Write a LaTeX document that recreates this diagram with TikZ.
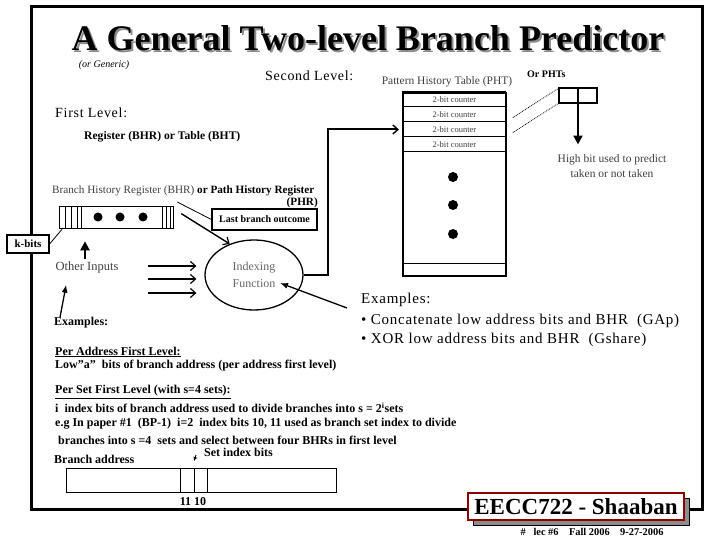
\documentclass[tikz,border=0pt]{standalone}
\usepackage{fontspec}
\setmainfont{Liberation Serif}
\newfontfamily\spacedserif[LetterSpace=5]{Liberation Serif}
\usetikzlibrary{arrows.meta,positioning,calc,shapes.geometric}
\newcommand{\setsz}[1]{\fontsize{#1}{#1}\selectfont}

\begin{document}
\begin{tikzpicture}[
    x=1pt, y=-1pt,
    lbl/.style={inner sep=0pt, anchor=west},
    bodytext/.style={lbl, font=\setsz{12}\bfseries},
    figtext/.style={inner sep=0pt, text=black!75, font=\setsz{11.5}},
    cell/.style={draw, line width=1pt, outer sep=0pt, minimum width=103pt, minimum height=15pt,
                 inner sep=0pt, font=\setsz{8.5}, text=black!75},
    pcell/.style={draw, line width=1.3pt, outer sep=0pt, minimum width=19pt, minimum height=15pt, inner sep=0pt},
    tagbox/.style={draw, line width=1.2pt, fill=white, inner sep=0pt, font=\setsz{10}\bfseries},
    dot/.style={circle, fill, inner sep=0pt, minimum size=10pt},
    feed/.style={line width=1.4pt, -{Straight Barb[length=5pt,width=9pt,line width=1.2pt]}},
    pointer/.style={line width=1.3pt, -{Latex[length=8pt,width=6pt]}},
    bigarr/.style={line width=2.2pt, -{Triangle[length=9pt,width=9pt]}},
    >=Latex
]
\useasboundingbox (0,0) rectangle (720,540);

% frame and title
\draw[line width=3pt] (31,7) rectangle (702,509);
\node[inner sep=0pt, font=\setsz{36}\bfseries] (title) at (368,39)
    {\rlap{\hspace{2pt}\raisebox{-2pt}{\color{black!45}A General Two-level Branch Predictor}}A General Two-level Branch Predictor};
\node[inner sep=0pt, font=\setsz{10}\itshape] (generic) at (104,65) {(or Generic)};

% second level: pattern history table
\node[lbl, font=\setsz{14}\spacedserif] (second) at (265,76) {Second Level:};
\node[figtext] (phtlbl) at (447,82) {Pattern History Table (PHT)};
\node[lbl, font=\setsz{10}\bfseries] (orphts) at (527,74) {Or PHTs};
\node[draw, line width=1.8pt, minimum width=103pt, minimum height=183pt, anchor=north west] (pht) at (402,92) {};
\node[cell, anchor=north] (c1) at (pht.north) {2-bit counter};
\node[cell, below=0pt of c1] (c2) {2-bit counter};
\node[cell, below=0pt of c2] (c3) {2-bit counter};
\node[cell, below=0pt of c3] (c4) {2-bit counter};
\draw[line width=1pt] ($(pht.south west)+(0,-13)$) -- ($(pht.south east)+(0,-13)$);
\node[dot] (pd1) at (453,177) {};
\node[dot] (pd2) at (453,205) {};
\node[dot] (pd3) at (453,234) {};

% or PHTs
\node[pcell, anchor=north west] (p1) at (559,88) {};
\node[pcell, right=0pt of p1] (p2) {};
\draw[densely dotted, thick] ($(c2.east)+(7,3)$) -- (p1.north west);
\draw[densely dotted, thick] ($(c3.east)+(7,3)$) -- (p1.south west);
\node[figtext, align=center] (hibit) at (612,166) {High bit used to predict\\[3pt]taken or not taken};
\draw[bigarr, shorten >=10pt] (p1.south east) -- (p1.south east |- hibit.north);

% first level
\node[lbl, font=\setsz{14}\spacedserif] (first) at (55,113) {First Level:};
\node[lbl, font=\setsz{11.6}\bfseries] (regtab) at (84,137) {Register (BHR) or Table (BHT)};
\node[lbl, font=\setsz{11.2}] (bhrlbl) at (52,191) {\color{black!75}Branch History Register (BHR) \textbf{\color{black}or Path History Register}};
\node[inner sep=0pt, anchor=east, font=\setsz{11.2}\bfseries] (phr) at (318,203) {(PHR)};
\node[draw, line width=1.3pt, minimum width=114pt, minimum height=22pt, inner sep=0pt, anchor=north west] (bhr) at (59,206) {};
\foreach \dx in {6,12,18,22}
    \draw[thick] (bhr.north west) ++(\dx,0) -- ++(0,22);
\foreach \dx in {4,8,12}
    \draw[thick] (bhr.north east) ++(-\dx,0) -- ++(0,22);
\node[dot, minimum size=9pt] (bd1) at (98,217) {};
\node[dot, minimum size=9pt] (bd2) at (120,217) {};
\node[dot, minimum size=9pt] (bd3) at (143,217) {};

\node[tagbox, minimum width=105pt, minimum height=21pt] (lastbr) at (264.5,219.5) {Last branch outcome};
\node[tagbox, minimum width=42pt, minimum height=18pt, font=\setsz{11}\bfseries] (kbits) at (28,244) {k-bits};
\draw[thick] (lastbr.west) -- ($(bhr.north east)+(3,-4)$);
\draw[thick] (kbits.east) -- ($(bhr.south west)+(3,0)$);

% indexing function
\node[draw, ellipse, line width=1.3pt, minimum width=98pt, minimum height=70pt, inner sep=0pt,
      align=center, text=black!60, font=\setsz{12}] (idx) at (254,275) {Indexing\\[5pt]Function};
\draw[feed] ($(bhr.east)+(7,-4)$) -- (idx.128);
\foreach \yy [count=\i] in {266,279,293} {
    \coordinate (in\i) at (148,\yy);
    \draw[feed, shorten >=8pt] (in\i) -- (in\i -| idx.west);
}
\draw[line width=2pt, -{Straight Barb[length=5pt,width=9pt,line width=1.4pt]}, shorten >=4pt]
    (idx.east) -- ++(24,0) |- (c3.west);

\node[figtext, font=\setsz{12.5}] (others) at (87,267) {Other Inputs};
\draw[bigarr, shorten <=2pt, shorten >=12pt] ($(others.north)+(-2,0)$) -- ($(bhr.south west)+(26,0)$);

% examples
\node[bodytext] (exleft) at (54,323) {Examples:};
\draw[pointer, shorten >=12pt] ($(exleft.north west)+(6,0)$) -- ($(others.south west)+(13,0)$);
\node[lbl, font=\setsz{15}\spacedserif] (exright) at (361,300) {Examples:};
\node[lbl, font=\setsz{15}\spacedserif] (gap) at (361,321) {• Concatenate low address bits and BHR\ \ (GAp)};
\node[lbl, font=\setsz{15}\spacedserif] (gshare) at (361,340) {• XOR low address bits and BHR\ \ (Gshare)};
\draw[pointer] ($(exright.west)+(-14,8)$) -- ($(idx.center)+(26,8)$);

\node[bodytext] (peraddr) at (55,352) {\underline{Per Address First Level:}};
\node[bodytext] (lowa) at (55,366) {Low”a”\ \ bits of branch address (per address first level)};
\node[bodytext] (perset) at (55,392) {\underline{Per Set First Level (with s=4 sets):}};
\node[bodytext] (iidx) at (55,408) {i\ \ index bits of branch address used to divide branches into s = 2\textsuperscript{i}sets};
\node[bodytext] (eg) at (55,424) {e.g In paper \#1\ \ (BP-1)\ \ i=2\ \ index bits 10, 11 used as branch set index to divide};
\node[bodytext] (sets) at (58,440) {branches into s =4\ \ sets and select between four BHRs in first level};

% branch address
\node[bodytext] (braddr) at (54,459) {Branch address};
\node[bodytext] (setidx) at (204,452) {Set index bits};
\node[draw, line width=1.3pt, minimum width=270pt, minimum height=24pt, inner sep=0pt, anchor=north west] (addr) at (66,468) {};
\foreach \dx in {114,128,141}
    \draw[thick] (addr.north west) ++(\dx,0) -- ++(0,24);
\draw[thick, -{Latex[length=4pt,width=4pt]}] ($(setidx.west)+(-8,3)$) -- ++(-2,6);
\node[bodytext, anchor=north] (bitnums) at ($(addr.south west)+(127,4)$) {11\ 10};

% course tag
\node[draw=black, fill=black!45, line width=1pt, minimum width=216pt, minimum height=27pt] (eeccshadow) at (581,511.5) {};
\node[draw=red!55!black, fill=white, line width=1.6pt, minimum width=216pt, minimum height=27pt,
      inner sep=0pt, font=\setsz{23}\bfseries] (eecc) at (576,506.5) {EECC722 - Shaaban};
\node[inner sep=0pt, font=\setsz{10.4}\bfseries] (footer) at (592,532) {\#\ \ \ lec \#6\ \ \ \ Fall 2006\ \ \ \ 9-27-2006};

\end{tikzpicture}
\end{document}
